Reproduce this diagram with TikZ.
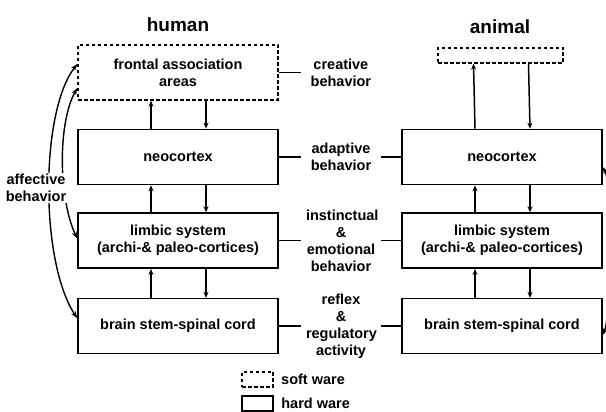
\documentclass[tikz,border=0pt]{standalone}
\usepackage{fontspec}
\setmainfont{Liberation Sans}
\usetikzlibrary{arrows.meta,positioning}

\begin{document}
\begin{tikzpicture}[x=1pt, y=1pt,
	font=\bfseries\fontsize{14.5}{17}\selectfont,
	box/.style={draw, line width=1.6pt, minimum width=200pt, minimum height=55pt, align=center, inner sep=0pt},
	softbox/.style={box, line width=1.4pt, dash pattern=on 3.5pt off 2.5pt},
	lbl/.style={text width=70pt, align=center, inner sep=5pt},
	title/.style={font=\bfseries\fontsize{19}{22}\selectfont},
	link/.style={line width=1.5pt},
	arr/.style={line width=1.5pt, -{Stealth[length=6pt,width=5pt]}},
	dbl/.style={line width=1.4pt, {Stealth[length=7pt,width=5pt]}-{Stealth[length=7pt,width=5pt]}}
]
	\useasboundingbox (0,0) rectangle (606,412);

	% Titles
	\node[title] (thuman) at (178,387) {human};
	\node[title] (tanimal) at (500,385) {animal};

	% Human column
	\node[softbox] (hfront) at (178,339.5) {frontal association\\areas};
	\node[box, below=28pt of hfront] (hneo) {neocortex};
	\node[box, below=27pt of hneo] (hlimbic) {limbic system\\(archi-\& paleo-cortices)};
	\node[box, below=29pt of hlimbic] (hbrain) {brain stem-spinal cord};

	% Behaviour labels
	\node[lbl, right=22pt of hfront] (creative) {creative\\behavior};
	\node[lbl, right=22pt of hneo] (adaptive) {adaptive\\behavior};
	\node[lbl, right=22pt of hlimbic] (instinct) {instinctual\\\&\\emotional\\behavior};
	\node[lbl, right=22pt of hbrain] (reflex) {reflex\\\&\\regulatory\\activity};

	% Animal column
	\node[box, right=20pt of adaptive] (aneo) {neocortex};
	\node[box, right=20pt of instinct] (alimbic) {limbic system\\(archi-\& paleo-cortices)};
	\node[box, right=20pt of reflex] (abrain) {brain stem-spinal cord};
	\node[softbox, minimum width=125pt, minimum height=15pt] (asoft) at (500.5,356.5) {};

	% Side links
	\draw[link] (hfront) -- (creative);
	\foreach \h/\m/\a in {hneo/adaptive/aneo, hlimbic/instinct/alimbic, hbrain/reflex/abrain} {
		\draw[link] (\h) -- (\m);
		\draw[link] (\m) -- (\a);
	}

	% Up and down arrows
	\foreach \lo/\hi in {hneo/hfront, hlimbic/hneo, hbrain/hlimbic, aneo/asoft, alimbic/aneo, abrain/alimbic} {
		\draw[arr] ([xshift=-27pt]\lo.north) -- ([xshift=-27pt]\hi.south);
		\draw[arr] ([xshift=28pt]\hi.south) -- ([xshift=28pt]\lo.north);
	}

	% Affective behavior
	\draw[dbl] ([yshift=8pt]hbrain.west) .. controls (40,150) and (40,300) .. ([yshift=8.5pt]hfront.west);
	\draw[dbl] ([yshift=2pt]hlimbic.west) .. controls (58,215) and (58,290) .. ([yshift=-15.5pt]hfront.west);
	\node[fill=white, inner sep=1pt, align=center] (affect) at (36,224) {affective\\behavior};
	\draw[dbl] ([yshift=-10pt]aneo.east) .. controls (612,228) and (612,100) .. ([yshift=-9pt]abrain.east);

	% Legend
	\node[softbox, minimum width=31pt, minimum height=15pt] (lsoft) at (257.5,32.5) {};
	\node[right=4pt of lsoft] (tsoft) {soft ware};
	\node[box, minimum width=31pt, minimum height=15pt] (lhard) at (257.5,8.5) {};
	\node[right=4pt of lhard] (thard) {hard ware};

\end{tikzpicture}
\end{document}
